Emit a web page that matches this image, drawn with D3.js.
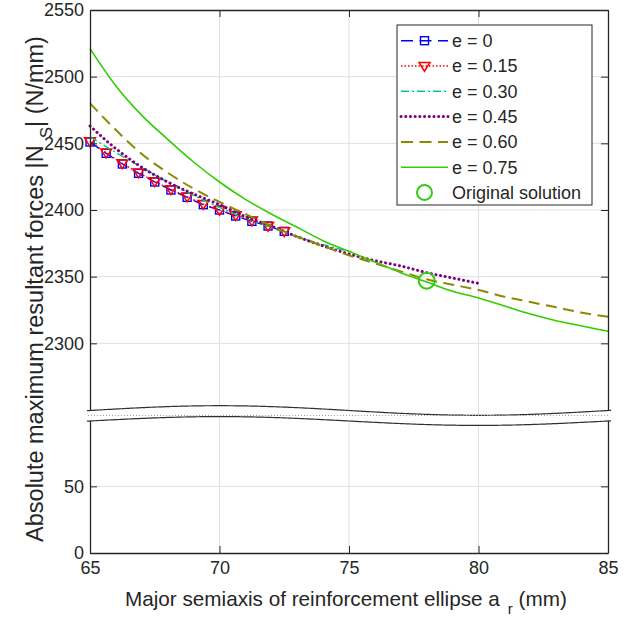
<!DOCTYPE html>
<html>
<head>
<meta charset="utf-8">
<script src="https://cdn.jsdelivr.net/npm/d3@7/dist/d3.min.js"></script>
<style>
  html, body { margin: 0; padding: 0; background: #ffffff; }
  svg { display: block; font-family: "Liberation Sans", Arial, Helvetica, sans-serif; }
</style>
</head>
<body>
<svg id="chart" width="644" height="620"></svg>
<script>
// ---------------- DATA ----------------
const xMarkers = [65, 65.625, 66.25, 66.875, 67.5, 68.125, 68.75, 69.375, 70, 70.625, 71.25, 71.875, 72.5];
const e000 = [2451, 2442.5, 2434.5, 2427.5, 2421, 2415, 2409.5, 2404, 2400, 2395.5, 2391.5, 2388, 2384];
const e015 = [2451.5, 2443, 2435, 2428, 2421.5, 2415.5, 2410, 2404.5, 2400, 2396, 2392, 2388, 2384];

const x030 = [65, 66, 67, 68, 69, 70, 71, 72, 73, 74, 75];
const e030 = [2455, 2443, 2432, 2421, 2411, 2402, 2394, 2387, 2380, 2374, 2369];

const x045 = [65, 66, 67, 68, 69, 70, 71, 72, 73, 74, 75, 76, 77, 78, 79, 80];
const e045 = [2463, 2446, 2432, 2421, 2412, 2404, 2395, 2388, 2380, 2373, 2367, 2362, 2358, 2353, 2349, 2345];

const xFull = [65, 66, 67, 68, 69, 70, 71, 72, 73, 74, 75, 76, 77, 78, 79, 80, 81, 82, 83, 84, 85];
const e060 = [2480, 2460, 2442, 2428, 2416, 2406, 2397, 2388, 2380, 2373, 2366, 2360, 2354, 2348, 2344, 2340, 2335, 2331, 2327, 2323, 2320];
const e075 = [2521, 2493, 2471, 2453, 2436, 2421, 2408, 2397, 2387, 2377, 2369, 2361, 2353, 2346, 2339, 2334, 2328, 2322, 2317, 2313, 2309];

const originalSolution = [78, 2347];

const xTicks = [65, 70, 75, 80, 85];
const yTicks = [0, 50, 2300, 2350, 2400, 2450, 2500, 2550];
const legendLabels = ["e = 0", "e = 0.15", "e = 0.30", "e = 0.45", "e = 0.60", "e = 0.75", "Original solution"];

// ---------------- LAYOUT ----------------
const L = 90, R = 608, T = 10, B = 553;
const breakTop = 410, breakBot = 419.7;
const ink = "#262626";
const gridC = "#dfdfdf";

const svg = d3.select("#chart");

const x = d3.scaleLinear().domain([65, 85]).range([L, R]);
// broken y-axis: lower segment 0..100, upper segment 2250..2550
const y = d3.scaleLinear().domain([0, 100, 2250, 2550]).range([B, breakBot, breakTop, T]);

// grid
const grid = svg.append("g");
grid.selectAll("line.gx").data(xTicks.filter(d => d > 65 && d < 85)).join("line")
  .attr("x1", d => x(d)).attr("x2", d => x(d)).attr("y1", T).attr("y2", B)
  .attr("stroke", gridC).attr("stroke-width", 1);
grid.selectAll("line.gy").data(yTicks.filter(d => d > 0 && d < 2550)).join("line")
  .attr("x1", L).attr("x2", R).attr("y1", d => y(d)).attr("y2", d => y(d))
  .attr("stroke", gridC).attr("stroke-width", 1);

// series
const line = d3.line().x(d => x(d[0])).y(d => y(d[1])).curve(d3.curveMonotoneX);
const zip = (xs, ys) => xs.map((v, i) => [v, ys[i]]);

const series = [
  { data: zip(xMarkers, e000), color: "#0000ff", width: 1.4, dash: "11,6" },
  { data: zip(xMarkers, e015), color: "#ff0000", width: 1.3, dash: "1.5,2" },
  { data: zip(x030, e030), color: "#00cc77", width: 1.5, dash: "8,3,2,3" },
  { data: zip(x045, e045), color: "#800080", width: 3, dash: "0.1,4.6", cap: "round" },
  { data: zip(xFull, e060), color: "#8c8a00", width: 2, dash: "11,6.5" },
  { data: zip(xFull, e075), color: "#33cc00", width: 1.6, dash: null }
];

const plot = svg.append("g");
function drawSeries(s) {
  plot.append("path").attr("d", line(s.data)).attr("fill", "none")
    .attr("stroke", s.color).attr("stroke-width", s.width)
    .attr("stroke-dasharray", s.dash).attr("stroke-linecap", s.cap || "butt");
}
function squareMarker(g, cx, cy) {
  g.append("rect").attr("x", cx - 4).attr("y", cy - 4).attr("width", 8).attr("height", 8)
    .attr("fill", "none").attr("stroke", "#0000ff").attr("stroke-width", 1.4);
}
function triMarker(g, cx, cy) {
  const s = 5.5;
  g.append("path").attr("d", `M${cx - s},${cy - s * 0.65}L${cx + s},${cy - s * 0.65}L${cx},${cy + s * 0.95}Z`)
    .attr("fill", "none").attr("stroke", "#ff0000").attr("stroke-width", 1.5);
}

drawSeries(series[0]);
series[0].data.forEach(d => squareMarker(plot, x(d[0]), y(d[1])));
drawSeries(series[1]);
series[1].data.forEach(d => triMarker(plot, x(d[0]), y(d[1])));
for (let i = 2; i < series.length; i++) drawSeries(series[i]);

plot.append("circle").attr("cx", x(originalSolution[0])).attr("cy", y(originalSolution[1])).attr("r", 8)
  .attr("fill", "none").attr("stroke", "#33cc11").attr("stroke-width", 2);

// axes
const fmt = d3.format("d");
const axL = svg.append("g").attr("transform", `translate(${L},0)`)
  .call(d3.axisLeft(y).tickValues(yTicks).tickSizeInner(-7).tickSizeOuter(0).tickPadding(6).tickFormat(fmt));
const axR = svg.append("g").attr("transform", `translate(${R},0)`)
  .call(d3.axisRight(y).tickValues(yTicks).tickSizeInner(-7).tickSizeOuter(0).tickFormat(""));
const axB = svg.append("g").attr("transform", `translate(0,${B})`)
  .call(d3.axisBottom(x).tickValues(xTicks).tickSizeInner(-7).tickSizeOuter(0).tickPadding(8).tickFormat(fmt));
const axT = svg.append("g").attr("transform", `translate(0,${T})`)
  .call(d3.axisTop(x).tickValues(xTicks).tickSizeInner(-7).tickSizeOuter(0).tickFormat(""));
[axL, axR, axB, axT].forEach(a => {
  a.select(".domain").attr("stroke", ink).attr("stroke-width", 1.3);
  a.selectAll(".tick line").attr("stroke", ink).attr("stroke-width", 1);
  a.selectAll("text").attr("fill", ink).style("font-size", "18px")
    .style("font-family", "'Liberation Sans', Arial, sans-serif");
});

// axis break band
const bx = d3.range(87, 612, 2);
const phase = v => Math.sin(2 * Math.PI * (v - L) / (R - L));
const topC = bx.map(v => [v, 410.5 - 4.8 * phase(v)]);
const botC = bx.map(v => [v, 421 - 4.4 * phase(v)]);
const band = svg.append("g");
band.append("path")
  .attr("d", d3.line()(topC.concat(botC.slice().reverse())) + "Z")
  .attr("fill", "#ffffff").attr("stroke", "none");
band.append("path").attr("d", d3.line()(topC)).attr("fill", "none").attr("stroke", "#303030").attr("stroke-width", 1.2);
band.append("path").attr("d", d3.line()(botC)).attr("fill", "none").attr("stroke", "#303030").attr("stroke-width", 1.2);
band.append("line").attr("x1", 88).attr("x2", 610).attr("y1", 415.5).attr("y2", 415.5)
  .attr("stroke", "#a0a0a0").attr("stroke-width", 1).attr("stroke-dasharray", "1,2");

// axis labels
const xl = svg.append("text").attr("x", 125).attr("y", 606).attr("fill", ink)
  .style("font-size", "20.7px");
xl.append("tspan").text("Major semiaxis of reinforcement ellipse a");
xl.append("tspan").attr("dx", 8).attr("dy", 8).style("font-size", "15px").text("r");
xl.append("tspan").attr("dy", -8).text(" (mm)");

const yl = svg.append("text").attr("transform", "translate(43,289) rotate(-90)").attr("fill", ink)
  .attr("text-anchor", "middle").style("font-size", "23.5px");
yl.append("tspan").text("Absolute maximum resultant forces |N");
yl.append("tspan").attr("dx", 7).attr("dy", 9).style("font-size", "17px").text("S");
yl.append("tspan").attr("dy", -9).text("| (N/mm)");

// legend
const lg = svg.append("g");
const LX = 397, LY = 25, LW = 195, LH = 180;
lg.append("rect").attr("x", LX).attr("y", LY).attr("width", LW).attr("height", LH)
  .attr("fill", "#ffffff").attr("stroke", ink).attr("stroke-width", 1);
const rowY = i => 40.7 + i * 25.3;
legendLabels.forEach((lab, i) => {
  const cy = rowY(i);
  if (i < series.length) {
    const s = series[i];
    const dash = (i === 0 || i === 4) ? "12,6.5" : s.dash;
    lg.append("line").attr("x1", 401).attr("x2", 448).attr("y1", cy).attr("y2", cy)
      .attr("stroke", s.color).attr("stroke-width", s.width)
      .attr("stroke-dasharray", dash).attr("stroke-linecap", s.cap || "butt");
    if (i === 0) squareMarker(lg, 424.5, cy);
    if (i === 1) triMarker(lg, 424.5, cy);
  } else {
    lg.append("circle").attr("cx", 424.5).attr("cy", cy).attr("r", 7.5)
      .attr("fill", "none").attr("stroke", "#33cc11").attr("stroke-width", 2);
  }
  lg.append("text").attr("x", 452).attr("y", cy).attr("dy", "0.35em").attr("fill", ink)
    .style("font-size", "18px").text(lab);
});
</script>
</body>
</html>
